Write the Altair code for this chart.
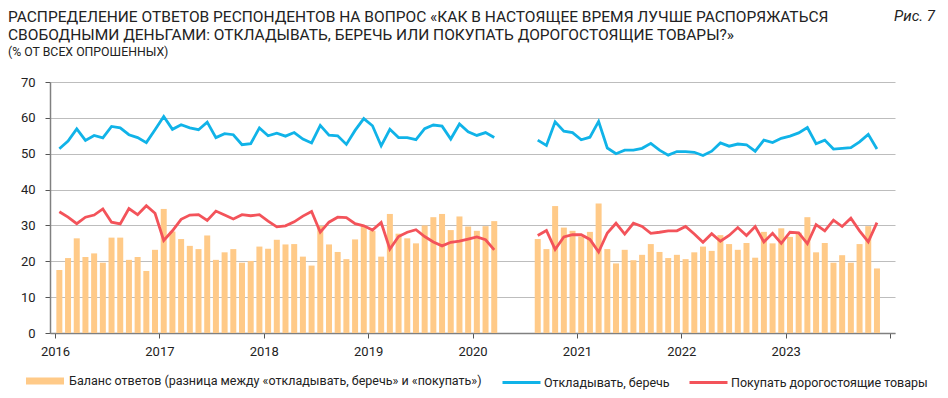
import altair as alt
import pandas as pd

# ---- data ----
months_a = [str(p) for p in pd.period_range("2016-01", "2020-03", freq="M")]
months_b = [str(p) for p in pd.period_range("2020-08", "2023-11", freq="M")]

balance_a = [17.6, 20.9, 26.4, 21.2, 22.2, 19.6, 26.6, 26.6, 20.4, 21.2, 17.3, 23.2,
             34.6, 28.3, 26.2, 24.3, 23.4, 27.2, 20.4, 22.5, 23.4, 19.6, 20.1, 24.1,
             23.5, 26.0, 24.7, 24.8, 21.3, 18.8, 29.9, 24.7, 22.6, 20.6, 26.1, 29.8,
             28.5, 21.3, 33.2, 27.7, 26.4, 25.0, 30.0, 32.3, 33.2, 28.7, 32.5, 29.7,
             28.5, 29.8, 31.2]
save_a = [51.4, 53.5, 56.9, 53.7, 55.1, 54.4, 57.6, 57.2, 55.3, 54.5, 53.1, 56.7,
          60.4, 56.8, 58.1, 57.2, 56.7, 58.8, 54.5, 55.6, 55.3, 52.5, 52.8, 57.2,
          55.0, 55.7, 54.9, 55.9, 54.1, 53.0, 57.9, 55.2, 55.0, 52.6, 56.5, 59.8,
          57.8, 52.2, 56.8, 54.5, 54.5, 53.9, 57.0, 58.0, 57.7, 54.1, 58.3, 56.1,
          55.1, 55.9, 54.5]
buy_a = [33.8, 32.3, 30.5, 32.3, 32.9, 34.6, 30.9, 30.4, 34.7, 33.0, 35.5, 33.4,
         25.8, 28.5, 31.7, 32.9, 33.0, 31.4, 34.0, 32.9, 31.8, 33.0, 32.7, 33.0,
         31.2, 29.6, 29.9, 31.0, 32.6, 33.9, 28.1, 30.9, 32.3, 32.2, 30.5, 29.9,
         28.7, 30.8, 23.4, 26.9, 28.1, 28.8, 26.9, 25.4, 24.3, 25.3, 25.6, 26.2,
         26.8, 26.0, 23.2]

balance_b = [26.2, 23.4, 35.4, 29.4, 28.5,
             26.9, 28.2, 36.1, 23.4, 19.4, 23.2, 20.3, 21.8, 24.8, 22.6, 20.9, 21.8,
             20.6, 22.5, 24.1, 22.9, 27.3, 24.8, 23.2, 25.1, 21.0, 28.2, 25.0, 29.2,
             26.8, 28.0, 32.3, 22.5, 25.1, 19.6, 21.7, 19.6, 24.8, 29.8, 18.0]
save_b = [53.8, 52.3, 58.9, 56.3, 55.9,
          53.9, 54.6, 59.0, 51.6, 50.0, 51.0, 51.0, 51.5, 52.9, 51.0, 49.6, 50.6,
          50.6, 50.4, 49.5, 50.7, 53.0, 52.1, 52.7, 52.5, 50.7, 53.8, 53.1, 54.3,
          54.9, 55.8, 57.3, 52.8, 53.8, 51.3, 51.5, 51.7, 53.3, 55.4, 51.3]
buy_b = [27.2, 28.6, 23.3, 26.8, 27.4,
         27.4, 26.1, 22.6, 27.9, 30.6, 27.6, 30.6, 29.7, 27.8, 28.1, 28.5, 28.5,
         29.7, 27.6, 25.3, 27.7, 25.6, 27.2, 29.4, 27.2, 29.7, 25.4, 27.8, 25.0,
         28.1, 27.9, 24.9, 30.2, 28.5, 31.5, 29.7, 32.0, 28.5, 25.4, 30.8]

BAL_NAME = "Баланс ответов (разница между «откладывать, беречь» и «покупать»)"
SAVE_NAME = "Откладывать, беречь"
BUY_NAME = "Покупать дорогостоящие товары"
TITLE_1 = "РАСПРЕДЕЛЕНИЕ ОТВЕТОВ РЕСПОНДЕНТОВ НА ВОПРОС «КАК В НАСТОЯЩЕЕ ВРЕМЯ ЛУЧШЕ РАСПОРЯЖАТЬСЯ"
TITLE_2 = "СВОБОДНЫМИ ДЕНЬГАМИ: ОТКЛАДЫВАТЬ, БЕРЕЧЬ ИЛИ ПОКУПАТЬ ДОРОГОСТОЯЩИЕ ТОВАРЫ?»"
SUBTITLE = "(% ОТ ВСЕХ ОПРОШЕННЫХ)"
FIG = "Рис. 7"

C_BAR = "#FFCA88"
C_SAVE = "#10B3E8"
C_BUY = "#F3535A"
FONT = "Roboto"
INK = "#222222"

# ---- tables ----
def frame(months, seg, bal, save, buy):
    d = pd.DataFrame({"month": months, "bal": bal, "save": save, "buy": buy})
    d["seg"] = seg
    return d

df = pd.concat([frame(months_a, "a", balance_a, save_a, buy_a),
                frame(months_b, "b", balance_b, save_b, buy_b)], ignore_index=True)
df["t"] = df["month"].str[:4].astype(int) + (df["month"].str[5:7].astype(int) - 0.5) / 12
df["bal_name"] = BAL_NAME

lines = pd.concat([
    df[["t", "seg"]].assign(v=df["save"], series=SAVE_NAME),
    df[["t", "seg"]].assign(v=df["buy"], series=BUY_NAME),
], ignore_index=True)

x_scale = alt.Scale(domain=[2016, 2024], nice=False, zero=False)
x_axis = alt.Axis(values=list(range(2016, 2025)), format="d",
                  labelExpr="datum.value < 2024 ? datum.label : ''",
                  title=None, grid=False, tickSize=5, tickColor="#555555",
                  domainColor="#808080", domainWidth=1.5,
                  labelFontSize=13, labelFont=FONT, labelColor=INK,
                  labelPadding=7)
y_scale = alt.Scale(domain=[0, 70], nice=False, zero=True)
y_axis = alt.Axis(values=[0, 10, 20, 30, 40, 50, 60, 70], title=None,
                  grid=True, labelOverlap=False,
                  gridColor="#BDBDBD", gridWidth=1, tickSize=5, tickColor="#555555",
                  domainColor="#808080", domainWidth=1.5,
                  labelFontSize=13, labelFont=FONT, labelColor=INK, labelPadding=10)

bars = alt.Chart(df).mark_bar(size=6).encode(
    x=alt.X("t:Q", scale=x_scale, axis=x_axis),
    y=alt.Y("bal:Q", scale=y_scale, axis=y_axis, stack=None),
    fill=alt.Fill("bal_name:N",
                  scale=alt.Scale(domain=[BAL_NAME], range=[C_BAR]),
                  legend=alt.Legend(title=None, orient="none", legendX=-24, legendY=280,
                                    symbolType="M-1,-0.19H1V0.19H-1Z", symbolSize=1444,
                                    symbolStrokeWidth=0, symbolOpacity=1,
                                    labelFont=FONT, labelFontSize=12.5, labelColor=INK,
                                    labelLimit=0, labelOffset=5, padding=0)),
)

line_layer = alt.Chart(lines).mark_line(strokeWidth=2.8).encode(
    x=alt.X("t:Q", scale=x_scale, axis=x_axis),
    y=alt.Y("v:Q", scale=y_scale, axis=y_axis),
    detail="seg:N",
    stroke=alt.Stroke("series:N",
                      scale=alt.Scale(domain=[SAVE_NAME, BUY_NAME], range=[C_SAVE, C_BUY]),
                      legend=alt.Legend(title=None, orient="none", legendX=451, legendY=280,
                                        direction="horizontal", symbolType="stroke",
                                        symbolSize=1444, symbolStrokeWidth=3,
                                        labelFont=FONT, labelFontSize=12.5,
                                        labelColor=INK, labelLimit=0,
                                        labelOffset=2, columnPadding=13, padding=0)),
)


def text_layer(txt, x, y, size, align="left", style="normal"):
    return alt.Chart(pd.DataFrame({"txt": [txt]})).mark_text(
        align=align, baseline="alphabetic", font=FONT, fontSize=size,
        fontStyle=style, color=INK
    ).encode(text="txt:N", x=alt.value(x), y=alt.value(y))


title1 = text_layer(TITLE_1, -42, -60.5, 15.5)
title2 = text_layer(TITLE_2, -42, -42.5, 15.5)
subtitle = text_layer(SUBTITLE, -42, -26.5, 12.3)
fig = text_layer(FIG, 885, -61, 15, align="right", style="italic")

chart = alt.layer(bars, line_layer, title1, title2, subtitle, fig).properties(
    width=845, height=251,
    autosize=alt.AutoSizeParams(type="none"),
    padding={"left": 42, "top": 74, "right": 45, "bottom": 57},
).configure_view(stroke=None)

chart.save("out.html", embed_options={"renderer": "svg", "actions": False})
